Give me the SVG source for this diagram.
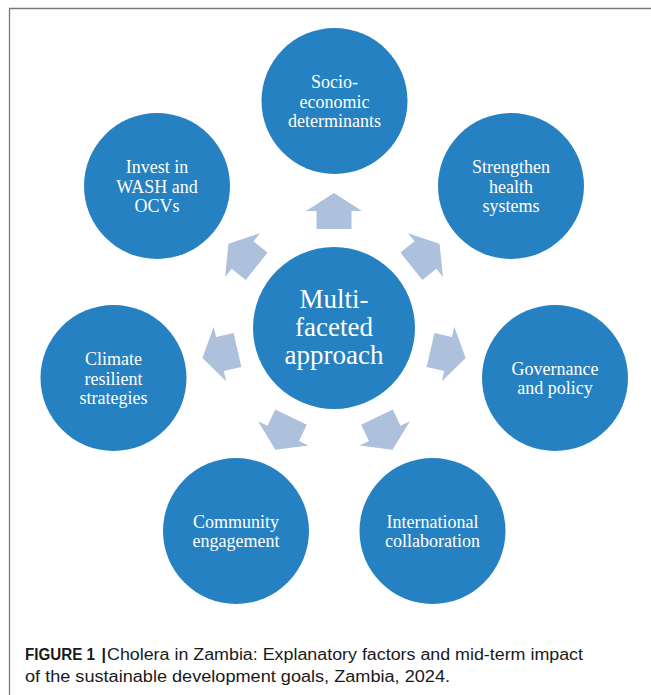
<svg xmlns="http://www.w3.org/2000/svg" width="651" height="695" viewBox="0 0 651 695">
  <defs>
    <style>
      .node { fill: #2581c1; }
      .lbl { font-family: "Liberation Serif", "Times New Roman", serif; font-size: 18px; fill: #ffffff; text-anchor: middle; }
      .big { font-size: 27px; }
      .arrow { fill: #adc1dd; }
      .cap { font-family: "Liberation Sans", Arial, sans-serif; font-size: 16px; fill: #1a1a1a; }
    </style>
    <polygon id="blockArrow" points="-17.5,-99 -17.5,-117 -28,-117 0,-135 28,-117 17.5,-117 17.5,-99"/>
  </defs>
  <rect width="651" height="695" fill="#ffffff"/>
  <path d="M9.5 695 V8.5 H651" fill="none" stroke="#7a7a7a" stroke-width="1.3"/>

  <g id="connectors" class="arrow" transform="translate(334 328)">
    <use href="#blockArrow" transform="rotate(0)"/>
    <use href="#blockArrow" transform="rotate(51.43)"/>
    <use href="#blockArrow" transform="rotate(102.86)"/>
    <use href="#blockArrow" transform="rotate(154.29)"/>
    <use href="#blockArrow" transform="rotate(205.71)"/>
    <use href="#blockArrow" transform="rotate(257.14)"/>
    <use href="#blockArrow" transform="rotate(308.57)"/>
  </g>

  <g id="center">
    <circle class="node" cx="334" cy="328" r="81"/>
    <text class="lbl big"><tspan x="334" y="308">Multi-</tspan><tspan x="334" y="336">faceted</tspan><tspan x="334" y="364">approach</tspan></text>
  </g>
  <g id="socio">
    <circle class="node" cx="334.5" cy="101" r="73"/>
    <text class="lbl"><tspan x="334.5" y="88">Socio-</tspan><tspan x="334.5" y="107.5">economic</tspan><tspan x="334.5" y="127">determinants</tspan></text>
  </g>
  <g id="health">
    <circle class="node" cx="511" cy="186" r="73"/>
    <text class="lbl"><tspan x="511" y="173">Strengthen</tspan><tspan x="511" y="192.5">health</tspan><tspan x="511" y="212">systems</tspan></text>
  </g>
  <g id="governance">
    <circle class="node" cx="555" cy="378" r="73"/>
    <text class="lbl"><tspan x="555" y="374.5">Governance</tspan><tspan x="555" y="393.5">and policy</tspan></text>
  </g>
  <g id="international">
    <circle class="node" cx="432.5" cy="531" r="73"/>
    <text class="lbl"><tspan x="432.5" y="527.5">International</tspan><tspan x="432.5" y="546.5">collaboration</tspan></text>
  </g>
  <g id="community">
    <circle class="node" cx="236" cy="531" r="73"/>
    <text class="lbl"><tspan x="236" y="527.5">Community</tspan><tspan x="236" y="546.5">engagement</tspan></text>
  </g>
  <g id="climate">
    <circle class="node" cx="113.5" cy="378" r="73"/>
    <text class="lbl"><tspan x="113.5" y="365">Climate</tspan><tspan x="113.5" y="384.5">resilient</tspan><tspan x="113.5" y="404">strategies</tspan></text>
  </g>
  <g id="wash">
    <circle class="node" cx="157" cy="186" r="73"/>
    <text class="lbl"><tspan x="157" y="173">Invest in</tspan><tspan x="157" y="192.5">WASH and</tspan><tspan x="157" y="212">OCVs</tspan></text>
  </g>

  <g id="caption">
    <text class="cap" x="25" y="660" font-weight="bold" textLength="70" lengthAdjust="spacingAndGlyphs">FIGURE 1</text>
    <text class="cap" x="101.5" y="660" font-weight="bold">|</text>
    <text class="cap" x="107" y="660" textLength="476" lengthAdjust="spacingAndGlyphs">Cholera in Zambia: Explanatory factors and mid-term impact</text>
    <text class="cap" x="25" y="682" textLength="425" lengthAdjust="spacingAndGlyphs">of the sustainable development goals, Zambia, 2024.</text>
  </g>
</svg>
